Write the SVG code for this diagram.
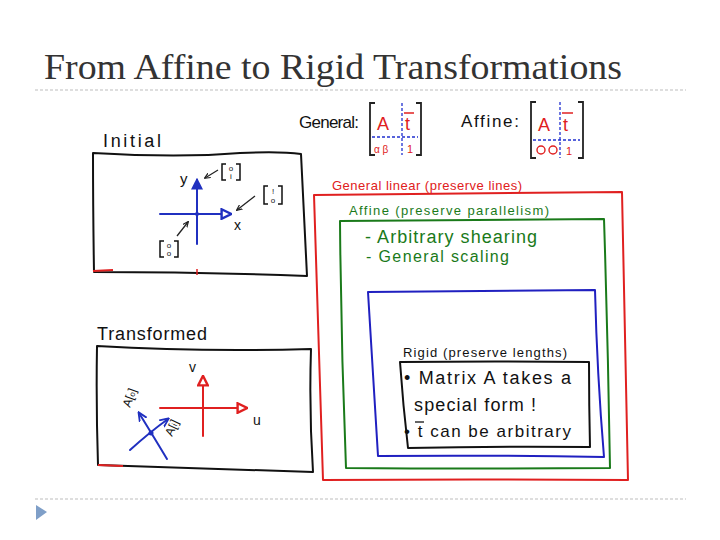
<svg xmlns="http://www.w3.org/2000/svg" width="720" height="540" viewBox="0 0 720 540">
<defs>
<style>
.hand{font-family:"Liberation Sans","DejaVu Sans",sans-serif;}
.box{fill:none;stroke-width:2;stroke-linejoin:round;stroke-linecap:round;}
.sep{stroke:#bdbdbd;stroke-width:1;stroke-dasharray:3 2;}
.dash{stroke:#2030d0;stroke-width:1.3;stroke-dasharray:3 2;fill:none;}
.br{fill:none;stroke:#222;stroke-width:1.8;}
.ax{fill:none;stroke-width:2;stroke-linecap:round;}
.pt{fill:none;stroke:#222;stroke-width:1.3;}
</style>
<marker id="arB" viewBox="0 0 10 10" refX="8" refY="5" markerWidth="6" markerHeight="6" orient="auto"><path d="M0,0 L10,5 L0,10 Z" fill="#2030c0"/></marker>
<marker id="arR" viewBox="0 0 10 10" refX="8" refY="5" markerWidth="6" markerHeight="6" orient="auto"><path d="M1,1 L9,5 L1,9 Z" fill="#fff" stroke="#e02020" stroke-width="2"/></marker>
<marker id="arRo" viewBox="0 0 10 10" refX="8" refY="5" markerWidth="6" markerHeight="6" orient="auto"><path d="M1,1 L9,5 L1,9 Z" fill="#fff" stroke="#2030c0" stroke-width="2"/></marker>
<marker id="arK" viewBox="0 0 10 10" refX="8" refY="5" markerWidth="5" markerHeight="5" orient="auto"><path d="M0,1 L9,5 L0,9" fill="none" stroke="#222" stroke-width="1.8"/></marker>
<marker id="arBl" viewBox="0 0 10 10" refX="8" refY="5" markerWidth="5" markerHeight="5" orient="auto"><path d="M0,1 L9,5 L0,9" fill="none" stroke="#2030c0" stroke-width="1.8"/></marker>
</defs>
<rect width="720" height="540" fill="#fff"/>

<g id="title">
<text x="44" y="79" font-family="Liberation Serif,serif" font-size="35" fill="#333" textLength="578" lengthAdjust="spacingAndGlyphs">From Affine to Rigid Transformations</text>
<line class="sep" x1="35" y1="90" x2="686" y2="90"/>
<line class="sep" x1="35" y1="499" x2="686" y2="499"/>
<path d="M36,505 L47,512 L36,520 Z" fill="#7f9fc8"/>
</g>

<g id="initial">
<text class="hand" x="103" y="147" font-size="18" fill="#111" textLength="58">Initial</text>
<path class="box" stroke="#111" d="M93,153 Q180,158 240,153 Q280,151 301,154 Q304,215 307,276 Q200,272 94,272 Q93,210 93,153 Z"/>
<path d="M93,271 L113,270" stroke="#e02020" stroke-width="2"/>
<path d="M197,269 L197,275" stroke="#e02020" stroke-width="1.5"/>
<line class="ax" stroke="#2030c0" x1="160" y1="214" x2="230" y2="214" marker-end="url(#arRo)"/>
<line class="ax" stroke="#2030c0" x1="197" y1="244" x2="197" y2="180" marker-end="url(#arB)"/>
<circle cx="197" cy="214" r="2" fill="#2030c0"/>
<text class="hand" x="180" y="184" font-size="15" fill="#111">y</text>
<text class="hand" x="234" y="230" font-size="14" fill="#111">x</text>
<line class="pt" x1="218" y1="170" x2="205" y2="178" marker-end="url(#arK)"/>
<line class="pt" x1="255" y1="196" x2="237" y2="210" marker-end="url(#arK)"/>
<line class="pt" x1="177" y1="236" x2="188" y2="222" marker-end="url(#arK)"/>
<g fill="none" stroke="#111" stroke-width="1.5">
<path d="M226,164 L222,164 L222,180 L226,180"/><path d="M236,164 L240,164 L240,180 L236,180"/>
<path d="M268,186 L264,186 L264,204 L268,204"/><path d="M278,186 L282,186 L282,204 L278,204"/>
<path d="M164,241 L160,241 L160,257 L164,257"/><path d="M174,241 L178,241 L178,257 L174,257"/>
</g>
<g class="hand" font-size="8" fill="#111" text-anchor="middle">
<text x="231" y="171">o</text><text x="231" y="179">i</text>
<text x="273" y="194">!</text><text x="273" y="203">o</text>
<text x="169" y="248">o</text><text x="169" y="256">o</text>
</g>
</g>

<g id="transformed">
<text class="hand" x="97" y="340" font-size="18" fill="#111" textLength="110">Transformed</text>
<path class="box" stroke="#111" d="M97,346 Q200,352 311,349 Q309,410 313,472 Q200,468 98,465 Q96,405 97,346 Z"/>
<path d="M98,465 L123,466" stroke="#e02020" stroke-width="2"/>
<line class="ax" stroke="#e02020" x1="160" y1="408" x2="246" y2="408" marker-end="url(#arR)"/>
<line class="ax" stroke="#e02020" x1="203" y1="436" x2="203" y2="377" marker-end="url(#arR)"/>
<text class="hand" x="189" y="372" font-size="14" fill="#111">v</text>
<text class="hand" x="253" y="425" font-size="14" fill="#111">u</text>
<path class="ax" stroke="#2030c0" stroke-width="1.5" d="M130,450 Q150,432 168,419" marker-end="url(#arBl)"/>
<path class="ax" stroke="#2030c0" stroke-width="1.5" d="M167,459 Q152,434 139,413" marker-end="url(#arBl)"/>
<circle cx="151" cy="433" r="2.5" fill="#2030c0"/>
<text class="hand" x="0" y="0" font-size="12" fill="#111" transform="translate(130,408) rotate(-70)">A[<tspan font-size="8">o</tspan>]</text>
<text class="hand" x="0" y="0" font-size="12" fill="#111" transform="translate(172,437) rotate(-65)">A[<tspan font-size="8">i</tspan>]</text>
</g>

<g id="general">
<text class="hand" x="299" y="128" font-size="17" fill="#111" textLength="60">General:</text>
<path class="br" d="M375,103 L370,103 L370,155 L375,155"/>
<path class="br" d="M416,103 L421,103 L421,155 L416,155"/>
<line class="dash" x1="402" y1="103" x2="402" y2="155"/>
<line class="dash" x1="372" y1="137" x2="418" y2="137"/>
<text class="hand" x="377" y="130" font-size="18" fill="#e02020">A</text>
<text class="hand" x="405" y="130" font-size="18" fill="#e02020">t</text>
<line x1="404" y1="113" x2="414" y2="113" stroke="#e02020" stroke-width="1.5"/>
<text class="hand" x="374" y="153" font-size="10" fill="#e02020">α  β</text>
<text class="hand" x="407" y="153" font-size="11" fill="#e02020">1</text>
</g>

<g id="affine-matrix">
<text class="hand" x="461" y="127" font-size="17" fill="#111" textLength="58">Affine:</text>
<path class="br" d="M536,102 L531,102 L531,158 L536,158"/>
<path class="br" d="M578,102 L583,102 L583,158 L578,158"/>
<line class="dash" x1="560" y1="102" x2="560" y2="158"/>
<line class="dash" x1="533" y1="140" x2="580" y2="140"/>
<text class="hand" x="538" y="131" font-size="18" fill="#e02020">A</text>
<text class="hand" x="563" y="131" font-size="18" fill="#e02020">t</text>
<line x1="562" y1="113" x2="573" y2="113" stroke="#e02020" stroke-width="1.5"/>
<circle cx="541" cy="150" r="4" fill="none" stroke="#e02020" stroke-width="1.4"/>
<circle cx="553" cy="150" r="4" fill="none" stroke="#e02020" stroke-width="1.4"/>
<text class="hand" x="566" y="155" font-size="11" fill="#e02020">1</text>
</g>

<g id="general-linear">
<text class="hand" x="332" y="190" font-size="13" fill="#e02020" textLength="190">General linear (preserve lines)</text>
<path class="box" stroke="#e02020" d="M314,195 Q470,193 622,192 Q625,335 628,480 Q470,479 323,480 Q318,340 314,195 Z"/>
</g>

<g id="affine">
<text class="hand" x="349" y="215" font-size="13" fill="#1a7a1a" textLength="200">Affine (preserve parallelism)</text>
<path class="box" stroke="#1a7a1a" d="M340,221 Q470,220 604,219 Q608,343 610,468 Q475,469 346,468 Q341,345 340,221 Z"/>
<text class="hand" x="365" y="243" font-size="18" fill="#1a7a1a" textLength="172">- Arbitrary shearing</text>
<text class="hand" x="366" y="262" font-size="16" fill="#1a7a1a" textLength="143">- General scaling</text>
</g>

<g id="euclid">
<path class="box" stroke="#2020c0" d="M368,292 Q480,291 595,290 Q597,373 604,457 Q490,455 378,456 Q373,373 368,292 Z"/>
</g>

<g id="rigid">
<text class="hand" x="403" y="357" font-size="13" fill="#111" textLength="164">Rigid (preserve lengths)</text>
<path class="box" stroke="#111" d="M400,362 Q495,361 589,362 Q589,405 590,447 Q496,446 408,448 Q403,405 400,362 Z"/>
<text class="hand" x="404" y="384" font-size="18" fill="#111" textLength="167">• Matrix A takes a</text>
<text class="hand" x="414" y="411" font-size="18" fill="#111" textLength="122">special form !</text>
<text class="hand" x="404" y="437" font-size="17" fill="#111" textLength="167">• t can be arbitrary</text>
<line x1="415" y1="422" x2="424" y2="422" stroke="#111" stroke-width="1.3"/>
</g>

<g id="connectors"></g>
</svg>
